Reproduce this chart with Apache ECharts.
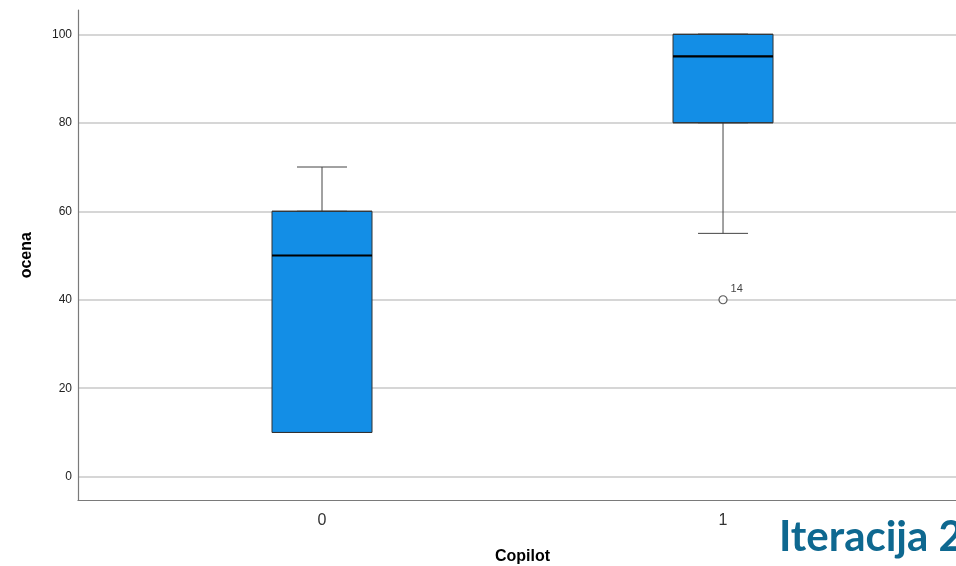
<!DOCTYPE html>
<html>
<head>
<meta charset="utf-8">
<script src="https://cdn.jsdelivr.net/npm/echarts@6/dist/echarts.min.js"></script>
<style>
html,body{margin:0;padding:0;background:#fff;}
#chart{width:956px;height:566px;}
</style>
</head>
<body>
<div id="chart"></div>
<script>
// Data
const categories = ['0', '1'];
const minVals    = [10, 55];
const q1Vals     = [10, 80];
const medianVals = [50, 95];
const q3Vals     = [60, 100];
const maxVals    = [70, 100];
const outliers   = [[1, 40, '14']];   // [category index, value, case label]
const yTicks     = [0, 20, 40, 60, 80, 100];

const FONT = '"Liberation Sans", Arial, sans-serif';
const X_MIN = -0.6085, X_MAX = 1.581;

const whiskerData = categories.map((c, i) => [i, minVals[i], q1Vals[i], medianVals[i], q3Vals[i], maxVals[i]]);
const boxData     = categories.map((c, i) => [i, q1Vals[i], q1Vals[i], medianVals[i], q3Vals[i], q3Vals[i]]);
const medianData  = categories.map((c, i) => [i, medianVals[i], medianVals[i], medianVals[i], medianVals[i], medianVals[i]]);
const outlierData = outliers.map(o => ({ value: [o[0], o[1]], label: o[2] }));

const hiddenX = () => ({
  type: 'value', min: X_MIN, max: X_MAX, show: false,
  axisLine: { show: false, onZero: false }, axisTick: { show: false },
  axisLabel: { show: false }, splitLine: { show: false }
});

const chart = echarts.init(document.getElementById('chart'), null, { renderer: 'canvas' });
chart.setOption({
  animation: false,
  backgroundColor: '#ffffff',
  grid: { left: 78, top: 10, right: 0, height: 490.5, containLabel: false, outerBoundsMode: 'none' },
  xAxis: [
    {
      type: 'value',
      min: X_MIN,
      max: X_MAX,
      name: 'Copilot',
      nameLocation: 'middle',
      nameGap: 48,
      nameTextStyle: { fontFamily: FONT, fontSize: 16, fontWeight: 'bold', color: '#000', padding: [0, 0, 0, 11] },
      axisLine: { show: true, onZero: false, lineStyle: { color: '#7a7a7a', width: 1.2 } },
      axisTick: { show: false },
      splitLine: { show: false },
      axisLabel: {
        customValues: categories.map((c, i) => i),
        formatter: v => categories[Math.round(v)],
        fontFamily: FONT, fontSize: 16, color: '#333', margin: 12
      }
    },
    hiddenX(),
    hiddenX()
  ],
  yAxis: {
    type: 'value',
    min: -5.38,
    max: 105.49,
    name: 'ocena',
    nameLocation: 'middle',
    nameGap: 43,
    nameTextStyle: { fontFamily: FONT, fontSize: 16, fontWeight: 'bold', color: '#000' },
    axisLine: { show: true, onZero: false, lineStyle: { color: '#7a7a7a', width: 1.2 } },
    axisTick: { show: false, customValues: yTicks },
    axisLabel: { customValues: yTicks, fontFamily: FONT, fontSize: 12, color: '#222', margin: 6 },
    splitLine: { show: true, lineStyle: { color: '#c9c9c9', width: 1.5 } }
  },
  series: [
    {
      type: 'boxplot',
      layout: 'horizontal',
      xAxisIndex: 1,
      encode: { x: 0, y: [1, 2, 3, 4, 5] },
      boxWidth: [50, 50],
      data: whiskerData,
      itemStyle: { color: 'rgba(0,0,0,0)', borderColor: '#444', borderWidth: 1 },
      emphasis: { disabled: true },
      silent: true
    },
    {
      type: 'boxplot',
      layout: 'horizontal',
      xAxisIndex: 2,
      encode: { x: 0, y: [1, 2, 3, 4, 5] },
      boxWidth: [100, 100],
      data: boxData,
      itemStyle: { color: '#138EE6', borderColor: '#333', borderWidth: 1 },
      emphasis: { disabled: true },
      silent: true
    },
    {
      type: 'boxplot',
      layout: 'horizontal',
      xAxisIndex: 0,
      encode: { x: 0, y: [1, 2, 3, 4, 5] },
      boxWidth: [100, 100],
      data: medianData,
      itemStyle: { color: 'rgba(0,0,0,0)', borderColor: '#000', borderWidth: 2.2 },
      emphasis: { disabled: true },
      silent: true
    },
    {
      type: 'scatter',
      xAxisIndex: 0,
      symbol: 'circle',
      symbolSize: 8,
      data: outlierData,
      itemStyle: { color: '#fff', borderColor: '#333', borderWidth: 1.2 },
      label: {
        show: true,
        position: 'right',
        offset: [-2, -11],
        formatter: p => p.data.label,
        fontFamily: FONT, fontSize: 11, color: '#111'
      },
      emphasis: { disabled: true },
      silent: true
    }
  ],
  graphic: [
    {
      type: 'text',
      left: 779,
      top: 516,
      style: {
        text: 'Iteracija 2',
        font: 'bold 42px Lato, "Open Sans", sans-serif',
        fill: '#0E6890'
      }
    }
  ]
});
</script>
</body>
</html>
